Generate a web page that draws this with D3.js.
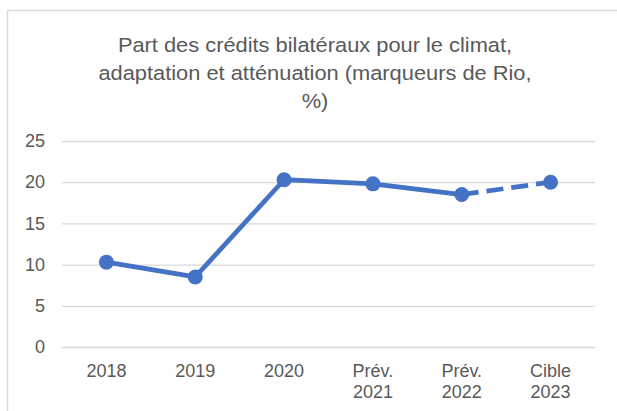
<!DOCTYPE html>
<html>
<head>
<meta charset="utf-8">
<script src="https://cdn.jsdelivr.net/npm/d3@7"></script>
<style>
  body { margin: 0; background: #fff; }
  text { font-family: "Liberation Sans", Arial, sans-serif; fill: #595959; }
</style>
</head>
<body>
<script>
// categories and values
var categories = ["2018", "2019", "2020", "Prév.\n2021", "Prév.\n2022", "Cible\n2023"];
var values = [10.3, 8.5, 20.3, 19.8, 18.5, 20.0];
var yTicks = [0, 5, 10, 15, 20, 25];
var titleLines = ["Part des crédits bilatéraux pour le climat,",
                  "adaptation et atténuation (marqueurs de Rio,",
                  "%)"];

var svg_width = 617, svg_height = 411;
var plotLeft = 62, plotRight = 595, plotTop = 141, plotBottom = 347;

var svg = d3.select('body').append('svg')
  .attr('width', svg_width)
  .attr('height', svg_height);

// chart border (right and bottom fall outside the picture)
svg.append('rect')
  .attr('x', 7.5).attr('y', 10.5)
  .attr('width', 700).attr('height', 500)
  .attr('fill', 'none')
  .attr('stroke', '#d9d9d9')
  .attr('stroke-width', 1.5);

// title, slightly wide font like the original
svg.append('g')
  .attr('transform', 'translate(315,0) scale(1.12,1)')
  .append('text')
  .attr('text-anchor', 'middle')
  .attr('font-size', 19.5)
  .selectAll('tspan')
  .data(titleLines)
  .enter()
  .append('tspan')
  .attr('x', 0)
  .attr('y', (d, i) => 52 + i * 28)
  .text(d => d);

var xScale = d3.scaleBand()
  .domain(categories)
  .range([plotLeft, plotRight]);

var yScale = d3.scaleLinear()
  .domain([0, 25])
  .range([plotBottom, plotTop]);

// gridlines + y labels
var yaxis = d3.axisLeft(yScale)
  .tickValues(yTicks)
  .tickSize(-(plotRight - plotLeft))
  .tickPadding(17);

var gy = svg.append('g')
  .attr('transform', 'translate(' + plotLeft + ',0)')
  .call(yaxis);
gy.select('.domain').remove();
gy.selectAll('line').attr('stroke', '#d9d9d9').attr('stroke-width', 1.3);
gy.selectAll('text')
  .attr('font-family', '"Liberation Sans", Arial, sans-serif')
  .attr('font-size', 18)
  .attr('fill', '#595959');

// x labels (two lines for forecasts)
var gx = svg.append('g');
gx.selectAll('text')
  .data(categories)
  .enter()
  .append('text')
  .attr('text-anchor', 'middle')
  .attr('font-size', 18)
  .each(function(d) {
    var parts = d.split('\n');
    var t = d3.select(this);
    parts.forEach(function(p, i) {
      t.append('tspan')
        .attr('x', xScale(d) + xScale.bandwidth() / 2)
        .attr('y', 377 + i * 21)
        .text(p);
    });
  });

var pts = categories.map((c, i) => ({ x: xScale(c) + xScale.bandwidth() / 2, y: yScale(values[i]) }));

var line = d3.line().x(d => d.x).y(d => d.y);

// solid part up to Prév. 2022
svg.append('path')
  .datum(pts.slice(0, 5))
  .attr('d', line)
  .attr('fill', 'none')
  .attr('stroke', '#4472c4')
  .attr('stroke-width', 4.75)
  .attr('stroke-linejoin', 'round');

// dashed part to target
svg.append('path')
  .datum(pts.slice(4))
  .attr('d', line)
  .attr('fill', 'none')
  .attr('stroke', '#4472c4')
  .attr('stroke-width', 4.75)
  .attr('stroke-dasharray', '17 8');

svg.selectAll('circle.pt')
  .data(pts)
  .enter()
  .append('circle')
  .attr('class', 'pt')
  .attr('cx', d => d.x)
  .attr('cy', d => d.y)
  .attr('r', 7.5)
  .attr('fill', '#4472c4');
</script>
</body>
</html>
